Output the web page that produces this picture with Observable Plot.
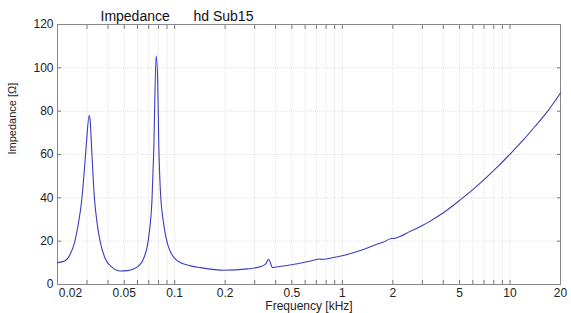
<!DOCTYPE html>
<html>
<head>
<meta charset="utf-8">
<script src="https://cdn.jsdelivr.net/npm/d3@7"></script>
<script src="https://cdn.jsdelivr.net/npm/@observablehq/plot@0.6"></script>
<style>
  html, body { margin: 0; padding: 0; background: #fff; }
  svg { display: block; }
</style>
</head>
<body>
<div id="chart"></div>
<script>
// Frequency in kHz and impedance in ohms
const freq = [0.0200, 0.0222, 0.0238, 0.0252, 0.0265, 0.0279, 0.0288, 0.0298, 0.0309, 0.0313,
  0.0320, 0.0332, 0.0345, 0.0359, 0.0385, 0.0422, 0.0474, 0.0521, 0.0569, 0.0607,
  0.0653, 0.0700, 0.0733, 0.0750, 0.0775, 0.0792, 0.0803, 0.0822, 0.0860, 0.0921,
  0.1035, 0.1243, 0.1427, 0.1959, 0.2717, 0.3264, 0.3495, 0.3628, 0.3834, 0.4298,
  0.5412, 0.700, 0.730, 0.750, 0.8564, 1.0289, 1.295, 1.5926, 1.75, 1.959,
  2.05, 2.581, 3.0, 3.4, 4.0, 5.0, 6.0, 7.0, 8.5, 10.0,
  12.0, 14.0, 17.0, 20.0];
const impedance = [10.1, 11, 14, 19, 27, 39, 51, 66, 78, 76,
  62, 40, 28, 20, 12, 8, 6.2, 6.4, 7.2, 8.5,
  12, 22, 40, 62, 105.5, 94, 66, 43, 28, 17,
  11, 8.6, 7.8, 6.6, 7.2, 8.3, 9.5, 11.8, 7.8, 8.4,
  9.6, 11.5, 11.8, 11.6, 12.2, 13.5, 15.8, 18.5, 19.5, 21.2,
  21.3, 24.8, 27.2, 29.6, 33.1, 38.8, 43.8, 48.4, 54.6, 60.2,
  66.7, 72.7, 80.6, 88.4];

const xLabelTicks = [0.05, 0.1, 0.2, 0.5, 1, 2, 5, 10, 20];
const xFirstTick = [0.02];
const xGridTicks = [0.02, 0.03, 0.04, 0.05, 0.06, 0.07, 0.08, 0.09,
  0.1, 0.2, 0.3, 0.4, 0.5, 0.6, 0.7, 0.8, 0.9,
  1, 2, 3, 4, 5, 6, 7, 8, 9, 10, 20];
const yTicks = [0, 20, 40, 60, 80, 100, 120];
const yGridTicks = [20, 40, 60, 80, 100];

const titleLeft = ["Impedance"];
const titleRight = ["hd Sub15"];
const xTitle = ["Frequency [kHz]"];
const yTitle = ["Impedance [Ω]"];

const data = freq.map((f, i) => ({f, z: impedance[i]}));

const chart = Plot.plot({
  width: 571,
  height: 313,
  marginLeft: 57,
  marginRight: 11,
  marginTop: 24,
  marginBottom: 29,
  style: {fontFamily: "'Liberation Sans', Arial, Helvetica, sans-serif", fontSize: "12px", color: "#222", background: "#fff"},
  x: {type: "log", domain: [0.02, 20]},
  y: {domain: [0, 120]},
  marks: [
    Plot.ruleX(xGridTicks.slice(1, -1), {stroke: "#e2e2e2", strokeDasharray: "1,1"}),
    Plot.ruleY(yGridTicks, {stroke: "#e2e2e2", strokeDasharray: "1,1"}),
    Plot.axisX({anchor: "bottom", ticks: xGridTicks, tickSize: -4, tickFormat: () => "", label: null, stroke: "#777"}),
    Plot.axisX({anchor: "top", ticks: xGridTicks, tickSize: -4, tickFormat: () => "", label: null, stroke: "#777"}),
    Plot.axisY({anchor: "left", ticks: yTicks, tickSize: -4, tickFormat: () => "", label: null, stroke: "#777"}),
    Plot.axisY({anchor: "right", ticks: yTicks, tickSize: -4, tickFormat: () => "", label: null, stroke: "#777"}),
    Plot.text(xLabelTicks, {x: d => d, text: d => String(d), frameAnchor: "bottom", lineAnchor: "middle", dy: 9, fontSize: 12, letterSpacing: "1px", fill: "#222"}),
    Plot.text(xFirstTick, {x: d => d, text: d => String(d), frameAnchor: "bottom", lineAnchor: "middle", dy: 9, dx: 13, fontSize: 12, letterSpacing: "1px", fill: "#222"}),
    Plot.axisY({anchor: "left", ticks: yTicks, tickSize: 0, tickPadding: 4, tickFormat: d => String(d), label: null, fill: "#222", fontSize: 12, letterSpacing: "1px"}),
    Plot.frame({stroke: "#888"}),
    Plot.line(data, {x: "f", y: "z", stroke: "#3c3cc0", strokeWidth: 1.1, curve: "monotone-x"}),
    Plot.text(titleLeft, {text: d => d, frameAnchor: "top-left", textAnchor: "start", lineAnchor: "middle", dx: 43, dy: -8, fontSize: 14, letterSpacing: "1px", fill: "#111"}),
    Plot.text(titleRight, {text: d => d, frameAnchor: "top-left", textAnchor: "start", lineAnchor: "middle", dx: 136, dy: -8, fontSize: 14, letterSpacing: "1px", fill: "#111"}),
    Plot.text(xTitle, {text: d => d, frameAnchor: "bottom", lineAnchor: "middle", dy: 22, fontSize: 12, letterSpacing: "1px", fill: "#222"}),
    Plot.text(yTitle, {text: d => d, frameAnchor: "left", lineAnchor: "middle", dx: -45, rotate: -90, fontSize: 11, fill: "#222"})
  ]
});
document.getElementById("chart").appendChild(chart);
</script>
</body>
</html>
